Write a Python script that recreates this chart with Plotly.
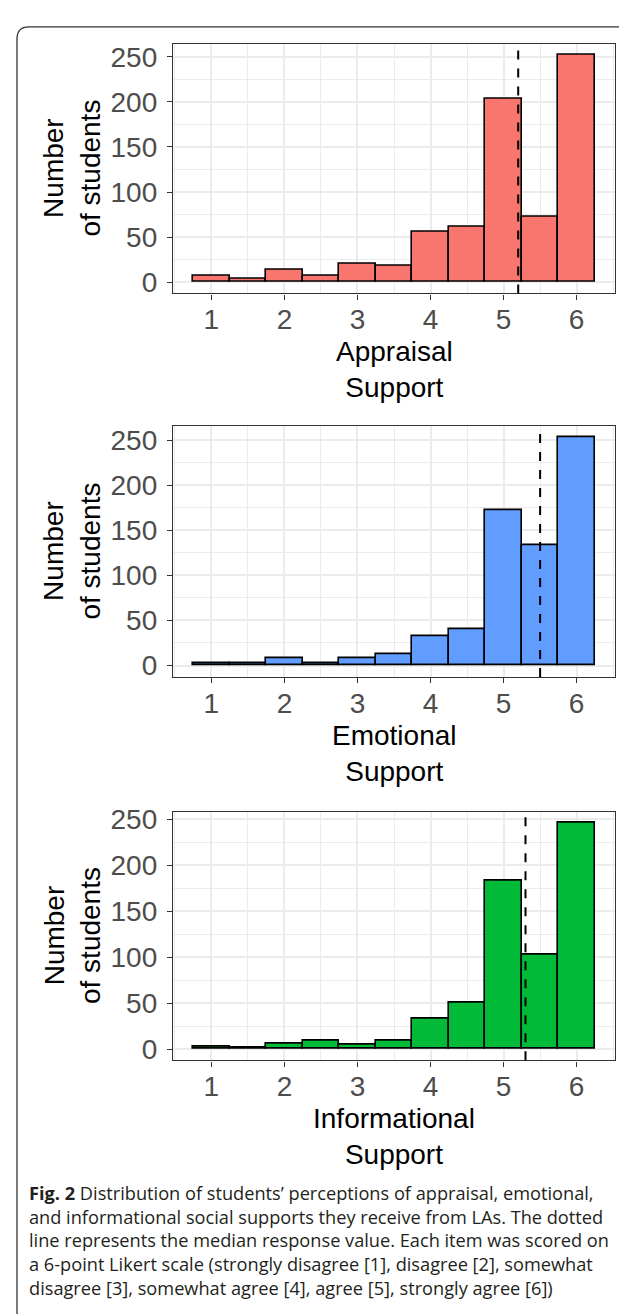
import plotly.graph_objects as go

W, H = 627, 1314

bin_centers = [1, 1.5, 2, 2.5, 3, 3.5, 4, 4.5, 5, 5.5, 6]
appraisal = [7, 4, 14, 7, 20, 18, 56, 62, 204, 73, 252]
emotional = [2, 2, 8, 2, 8, 13, 32, 40, 172, 134, 253]
informational = [3, 1, 6, 9, 5, 9, 33, 50, 183, 103, 246]
medians = [5.2, 5.5, 5.3]
x_titles = ["Appraisal<br>Support", "Emotional<br>Support", "Informational<br>Support"]
y_title = "Number<br>of students"
colors = ["#F8766D", "#619CFF", "#00BA38"]
x_ticks = [1, 2, 3, 4, 5, 6]
y_ticks = [0, 50, 100, 150, 200, 250]
caption = (
    "<b>Fig. 2</b> Distribution of students\u2019 perceptions of appraisal, emotional,<br>"
    "and informational social supports they receive from LAs. The dotted<br>"
    "line represents the median response value. Each item was scored on<br>"
    "a 6-point Likert scale (strongly disagree [1], disagree [2], somewhat<br>"
    "disagree [3], somewhat agree [4], agree [5], strongly agree [6])"
)

series = [appraisal, emotional, informational]

# pixel layout
px_left, px_right = 165, 607
panels_px = [(28, 280), (414, 667), (803, 1054)]


def px_x(p):
    return p / W


def px_y(p):
    return 1 - p / H


fig = go.Figure()
annotations = []
shapes = []
AX = "Liberation Sans, Arial, sans-serif"

for i, (vals, col, med, (top, bot)) in enumerate(zip(series, colors, medians, panels_px)):
    n = i + 1
    xa = "x" if n == 1 else f"x{n}"
    ya = "y" if n == 1 else f"y{n}"
    fig.add_trace(go.Bar(
        x=bin_centers, y=vals, width=0.5, xaxis=xa, yaxis=ya,
        marker=dict(color=col, line=dict(color="black", width=1.6)),
        showlegend=False,
    ))
    mx = max(vals)
    axis_common = dict(
        showline=True, mirror=True, linecolor="#333333", linewidth=1.3,
        ticks="outside", ticklen=5, tickwidth=1.3, tickcolor="#333333",
        tickfont=dict(family=AX, size=28, color="#4D4D4D"),
        showgrid=True, gridcolor="#EBEBEB", gridwidth=1.5, zeroline=False,
    )
    fig.layout[("xaxis" if n == 1 else f"xaxis{n}")] = dict(
        domain=[px_x(px_left), px_x(px_right)], anchor=ya,
        range=[0.475, 6.525], tickmode="array", tickvals=x_ticks,
        ticklabelstandoff=-4,
        minor=dict(tickvals=[0.5, 1.5, 2.5, 3.5, 4.5, 5.5, 6.5], showgrid=True,
                   gridcolor="#EBEBEB", gridwidth=0.8, ticks=""),
        **axis_common,
    )
    fig.layout[("yaxis" if n == 1 else f"yaxis{n}")] = dict(
        domain=[px_y(bot), px_y(top)], anchor=xa,
        range=[-0.05 * mx, 1.05 * mx], tickmode="array", tickvals=y_ticks,
        ticklabelstandoff=4,
        minor=dict(tickvals=[25, 75, 125, 175, 225], showgrid=True,
                   gridcolor="#EBEBEB", gridwidth=0.8, ticks=""),
        **axis_common,
    )
    # median line
    shapes.append(dict(type="line", xref=xa, yref=f"{ya} domain", x0=med, x1=med, y0=0, y1=1,
                       line=dict(color="black", width=2, dash="dash")))
    # x title
    annotations.append(dict(text=x_titles[i], xref="paper", yref="paper",
                            x=px_x((px_left + px_right) / 2), y=px_y(bot + 77),
                            showarrow=False, xanchor="center", yanchor="middle",
                            font=dict(family=AX, size=28, color="black")))
    # y title
    annotations.append(dict(text=y_title, xref="paper", yref="paper",
                            x=px_x(64), y=px_y((top + bot) / 2),
                            showarrow=False, textangle=-90, xanchor="center", yanchor="middle",
                            font=dict(family=AX, size=28, color="black")))

# caption
annotations.append(dict(text=caption, xref="paper", yref="paper",
                        x=px_x(19), y=px_y(1236), showarrow=False,
                        xanchor="left", yanchor="middle", align="left",
                        font=dict(family="Open Sans, sans-serif", size=18.2, color="#231F20")))

# rounded border box
l, t, r, b, rad = 9, 11, 637, 1330, 12
path = (f"M {px_x(l)},{px_y(b)} L {px_x(l)},{px_y(t + rad)} "
        f"Q {px_x(l)},{px_y(t)} {px_x(l + rad)},{px_y(t)} "
        f"L {px_x(r - rad)},{px_y(t)} Q {px_x(r)},{px_y(t)} {px_x(r)},{px_y(t + rad)} "
        f"L {px_x(r)},{px_y(b)}")
shapes.append(dict(type="path", xref="paper", yref="paper", path=path,
                   line=dict(color="#333333", width=1.3)))

fig.update_layout(
    width=W, height=H, margin=dict(l=0, r=0, t=0, b=0),
    paper_bgcolor="white", plot_bgcolor="white",
    shapes=shapes, annotations=annotations, bargap=0,
)

fig.write_html("out.html")
